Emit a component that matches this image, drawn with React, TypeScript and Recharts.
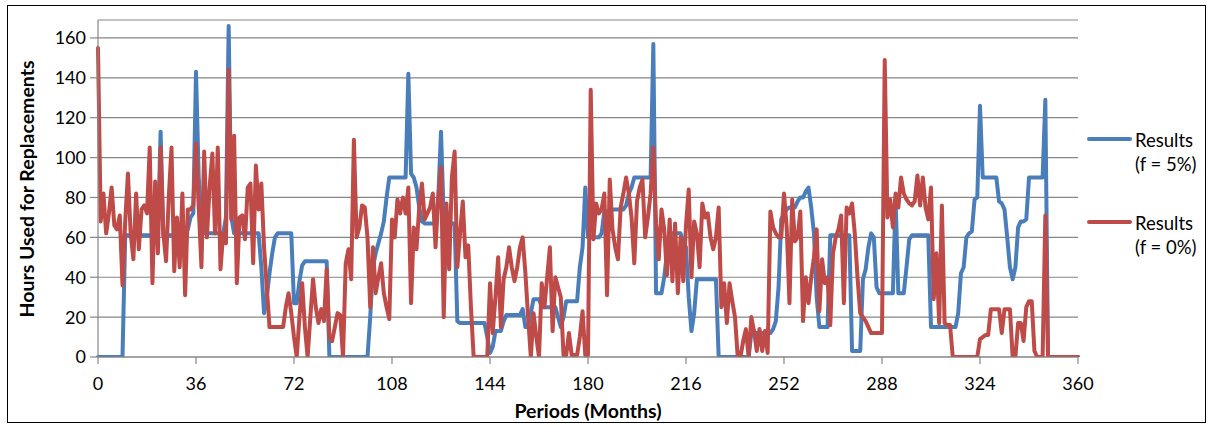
import React from 'react';
import { LineChart, Line, XAxis, YAxis, CartesianGrid, Legend } from 'recharts';

const seriesNames = ['Results (f = 5%)', 'Results (f = 0%)'];
const seriesColors = ['#4A7EBB', '#BE4B48'];
const xTicks = [0, 36, 72, 108, 144, 180, 216, 252, 288, 324, 360];
const yTicks = [0, 20, 40, 60, 80, 100, 120, 140, 160];

// Results (f = 5%) — one value per month, 0..360
const results5 = [
  0, 0, 0, 0, 0, 0, 0, 0, 0, 0, 61, 61,
  61, 61, 61, 61, 61, 61, 61, 61, 61, 61, 61, 113,
  61, 61, 61, 61, 61, 61, 61, 61, 61, 64, 70, 72,
  143, 90, 70, 62, 62, 62, 62, 62, 62, 62, 62, 70,
  166, 70, 62, 62, 62, 62, 62, 62, 62, 62, 62, 62,
  45, 22, 30, 42, 52, 60, 62, 62, 62, 62, 62, 62,
  27, 27, 38, 46, 48, 48, 48, 48, 48, 48, 48, 48,
  48, 0, 0, 0, 0, 0, 0, 0, 0, 0, 0, 0,
  0, 0, 0, 0, 20, 45, 52, 57, 62, 68, 80, 90,
  90, 90, 90, 90, 90, 90, 142, 92, 90, 85, 75, 68,
  67, 67, 67, 67, 67, 80, 113, 70, 67, 67, 67, 67,
  18, 17, 17, 17, 17, 17, 17, 17, 17, 17, 17, 10,
  2, 5, 13, 13, 13, 18, 21, 21, 21, 21, 21, 21,
  24, 15, 15, 22, 29, 29, 29, 25, 25, 25, 25, 25,
  25, 20, 15, 20, 28, 28, 28, 28, 28, 45, 55, 85,
  60, 60, 60, 60, 60, 62, 73, 73, 73, 74, 74, 74,
  74, 74, 76, 82, 85, 90, 90, 90, 90, 90, 90, 90,
  157, 32, 32, 32, 40, 52, 62, 62, 62, 62, 62, 58,
  55, 30, 13, 22, 39, 39, 39, 39, 39, 39, 39, 39,
  0, 0, 0, 0, 0, 0, 0, 0, 0, 0, 0, 0,
  12, 12, 12, 12, 12, 12, 12, 12, 14, 18, 35, 69,
  72, 74, 75, 75, 75, 78, 80, 80, 83, 85, 75, 62,
  30, 15, 15, 15, 15, 61, 61, 61, 61, 61, 61, 61,
  61, 3, 3, 3, 3, 39, 44, 55, 62, 60, 35, 32,
  32, 32, 32, 32, 32, 79, 32, 32, 32, 45, 59, 61,
  61, 61, 61, 61, 61, 61, 15, 15, 15, 15, 15, 15,
  15, 15, 15, 15, 22, 42, 45, 60, 62, 63, 79, 80,
  126, 90, 90, 90, 90, 90, 90, 78, 77, 74, 60, 45,
  39, 45, 65, 68, 68, 69, 90, 90, 90, 90, 90, 90,
  129, 0, 0, 0, 0, 0, 0, 0, 0, 0, 0, 0,
  0,
];

// Results (f = 0%) — one value per month, 0..360
const results0 = [
  155, 68, 82, 62, 72, 85, 66, 64, 71, 36, 68, 92,
  62, 49, 82, 54, 74, 76, 72, 105, 37, 88, 52, 105,
  62, 48, 80, 105, 43, 70, 45, 82, 31, 74, 74, 76,
  107, 75, 45, 103, 60, 85, 102, 62, 105, 44, 62, 57,
  144, 69, 111, 37, 70, 71, 59, 85, 87, 47, 96, 74,
  87, 55, 35, 15, 15, 15, 15, 15, 15, 25, 32, 22,
  10, 0, 20, 37, 15, 0, 20, 39, 25, 17, 24, 18,
  44, 10, 8, 15, 22, 21, 0, 47, 54, 39, 109, 60,
  65, 76, 75, 60, 25, 55, 32, 40, 47, 32, 25, 19,
  69, 60, 79, 72, 80, 72, 85, 27, 65, 54, 75, 87,
  69, 72, 75, 82, 55, 80, 95, 20, 77, 44, 90, 103,
  45, 62, 78, 50, 56, 25, 0, 0, 0, 0, 0, 0,
  37, 12, 30, 50, 15, 39, 45, 55, 45, 38, 45, 55,
  60, 42, 20, 0, 22, 10, 0, 37, 25, 40, 55, 13,
  40, 35, 30, 1, 1, 12, 1, 1, 1, 10, 23, 1,
  1, 134, 59, 77, 72, 74, 82, 31, 89, 64, 55, 49,
  75, 82, 90, 82, 70, 47, 78, 85, 89, 60, 70, 82,
  105, 67, 49, 74, 64, 41, 69, 38, 67, 32, 60, 38,
  66, 84, 40, 68, 62, 45, 77, 70, 72, 60, 54, 60,
  75, 25, 37, 17, 37, 28, 20, 0, 0, 8, 14, 0,
  20, 13, 3, 14, 3, 13, 2, 73, 65, 62, 60, 60,
  82, 65, 27, 79, 58, 60, 73, 18, 40, 27, 40, 50,
  64, 23, 49, 37, 40, 16, 52, 60, 64, 71, 27, 75,
  72, 77, 62, 40, 22, 20, 18, 15, 12, 12, 12, 12,
  12, 149, 70, 79, 65, 82, 75, 90, 82, 79, 77, 76,
  78, 91, 76, 90, 75, 69, 85, 29, 52, 17, 76, 17,
  16, 16, 0, 0, 0, 0, 0, 0, 0, 0, 0, 0,
  9, 10, 11, 11, 24, 24, 24, 24, 12, 24, 24, 24,
  0, 0, 17, 17, 8, 25, 28, 28, 3, 0, 0, 0,
  71, 0, 0, 0, 0, 0, 0, 0, 0, 0, 0, 0,
  0,
];

const data = results5.map((v, i) => ({ month: i, f5: v, f0: results0[i] }));

const FONT = 'Lato, "Liberation Sans", sans-serif';
const GRID = '#868686';

const renderYTitle = () => (
  <text
    x={26}
    y={189}
    transform="rotate(-90 26 189)"
    textAnchor="middle"
    dominantBaseline="central"
    fontFamily={FONT}
    fontWeight={700}
    fontSize={19.5}
    fill="#000"
  >
    Hours Used for Replacements
  </text>
);

const renderXTitle = () => (
  <text
    x={588}
    y={410}
    textAnchor="middle"
    dominantBaseline="central"
    fontFamily={FONT}
    fontWeight={700}
    fontSize={19.5}
    fill="#000"
  >
    Periods (Months)
  </text>
);

const renderLegend = () => (
  <div style={{ position: 'relative', width: 131, height: 150, fontFamily: FONT, fontSize: 18.5, color: '#000' }}>
    {seriesNames.map((name, idx) => {
      const split = name.indexOf(' (');
      return (
        <div key={name} style={{ position: 'absolute', left: 0, top: idx * 83, width: 131, height: 60 }}>
          <div
            style={{
              position: 'absolute',
              left: 7,
              top: 17,
              width: 45,
              height: 4,
              borderRadius: 2,
              background: seriesColors[idx],
            }}
          />
          <div style={{ position: 'absolute', left: 55, top: 8, lineHeight: '24px', whiteSpace: 'nowrap' }}>
            <div>{name.slice(0, split)}</div>
            <div>{name.slice(split + 1)}</div>
          </div>
        </div>
      );
    })}
  </div>
);

export default function App() {
  return (
    <div style={{ position: 'absolute', left: 0, top: 0, width: 1211, height: 426, background: '#fff' }}>
      <div
        style={{
          position: 'absolute',
          left: 7,
          top: 5,
          width: 1199,
          height: 418,
          border: '1px solid #000',
          boxSizing: 'border-box',
        }}
      />
      <div style={{ position: 'absolute', left: 0, top: 0 }}>
        <LineChart width={1211} height={426} data={data} margin={{ top: 20, right: 2, bottom: 0, left: 0 }}>
          <CartesianGrid vertical={false} stroke={GRID} strokeWidth={1.2} />
          <XAxis
            dataKey="month"
            type="number"
            domain={[0, 360]}
            ticks={xTicks}
            interval={0}
            height={69}
            tickSize={7}
            tickMargin={13}
            axisLine={{ stroke: GRID, strokeWidth: 1.2 }}
            tickLine={{ stroke: GRID, strokeWidth: 1.2 }}
            tick={{ fill: '#000', fontFamily: FONT, fontSize: 18 }}
            label={renderXTitle}
          />
          <YAxis
            type="number"
            domain={[0, 169]}
            ticks={yTicks}
            interval={0}
            width={98}
            tickSize={8}
            tickMargin={4}
            allowDataOverflow
            axisLine={{ stroke: GRID, strokeWidth: 1.2 }}
            tickLine={{ stroke: GRID, strokeWidth: 1.2 }}
            tick={{ fill: '#000', fontFamily: FONT, fontSize: 18 }}
            label={renderYTitle}
          />
          <Legend
            layout="vertical"
            align="right"
            verticalAlign="middle"
            content={renderLegend}
            wrapperStyle={{ position: 'absolute', left: 1080, top: 120, width: 131, height: 150 }}
          />
          <Line
            type="linear"
            dataKey="f5"
            name={seriesNames[0]}
            stroke={seriesColors[0]}
            strokeWidth={4}
            strokeLinejoin="round"
            strokeLinecap="round"
            dot={false}
            activeDot={false}
            isAnimationActive={false}
          />
          <Line
            type="linear"
            dataKey="f0"
            name={seriesNames[1]}
            stroke={seriesColors[1]}
            strokeWidth={4}
            strokeLinejoin="round"
            strokeLinecap="round"
            dot={false}
            activeDot={false}
            isAnimationActive={false}
          />
        </LineChart>
      </div>
    </div>
  );
}
